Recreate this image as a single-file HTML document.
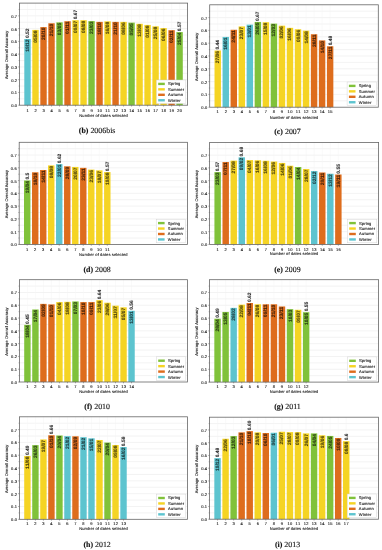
<!DOCTYPE html><html><head><meta charset="utf-8"><style>
html,body{margin:0;padding:0;background:#fff;}
body{width:382px;height:550px;overflow:hidden;}
svg{display:block;will-change:transform;}
text{font-family:"Liberation Sans",sans-serif;fill:#1a1a1a;text-rendering:geometricPrecision;}
.grid{stroke:#e4e4e4;stroke-width:0.45;fill:none;}
.vgrid{stroke:#f4f4f4;stroke-width:0.45;fill:none;}
.tick{stroke:#444;stroke-width:0.45;fill:none;}
.frame{fill:none;stroke:#666;stroke-width:0.8;}
.bt{font-size:4.9px;font-weight:bold;fill:#000;stroke:#000;stroke-width:0.1;opacity:0.72;}
.vt{opacity:0.85;}
.tl{font-size:4.0px;stroke:#1a1a1a;stroke-width:0.12;}
.al{font-size:4.0px;stroke:#1a1a1a;stroke-width:0.1;}
.lt{font-size:4.0px;stroke:#1a1a1a;stroke-width:0.12;}
.leg{fill:#fff;stroke:#d0d0d0;stroke-width:0.45;}
.cap{text-rendering:geometricPrecision;font-family:"Liberation Serif",serif;font-size:7.9px;fill:#111;stroke:#111;stroke-width:0.12;}
</style></head><body>
<svg width="382" height="550" viewBox="0 0 382 550">
<g>
<path d="M19.5 98.82H187.6M19.5 92.44H187.6M19.5 86.06H187.6M19.5 79.67H187.6M19.5 73.29H187.6M19.5 66.91H187.6M19.5 60.53H187.6M19.5 54.15H187.6M19.5 47.77H187.6M19.5 41.39H187.6M19.5 35.01H187.6M19.5 28.62H187.6M19.5 22.24H187.6M19.5 15.86H187.6M19.5 9.48H187.6" class="grid"/>
<path d="M27.5 3.1V105.2M35.51 3.1V105.2M43.51 3.1V105.2M51.52 3.1V105.2M59.52 3.1V105.2M67.53 3.1V105.2M75.53 3.1V105.2M83.54 3.1V105.2M91.54 3.1V105.2M99.55 3.1V105.2M107.55 3.1V105.2M115.56 3.1V105.2M123.56 3.1V105.2M131.57 3.1V105.2M139.57 3.1V105.2M147.58 3.1V105.2M155.58 3.1V105.2M163.59 3.1V105.2M171.59 3.1V105.2M179.6 3.1V105.2" class="vgrid"/>
<rect x="24.3" y="38.96" width="6.4" height="66.24" fill="#5dc4cf"/>
<rect x="32.31" y="29.9" width="6.4" height="75.3" fill="#f5d424"/>
<rect x="40.31" y="27.09" width="6.4" height="78.11" fill="#de6d1d"/>
<rect x="48.32" y="23.26" width="6.4" height="81.94" fill="#de6d1d"/>
<rect x="56.32" y="22.37" width="6.4" height="82.83" fill="#80c23a"/>
<rect x="64.33" y="21.22" width="6.4" height="83.98" fill="#de6d1d"/>
<rect x="72.33" y="20.2" width="6.4" height="85" fill="#f5d424"/>
<rect x="80.34" y="20.2" width="6.4" height="85" fill="#f5d424"/>
<rect x="88.34" y="21.1" width="6.4" height="84.1" fill="#80c23a"/>
<rect x="96.35" y="21.86" width="6.4" height="83.34" fill="#de6d1d"/>
<rect x="104.35" y="21.35" width="6.4" height="83.85" fill="#f5d424"/>
<rect x="112.36" y="21.86" width="6.4" height="83.34" fill="#de6d1d"/>
<rect x="120.36" y="21.86" width="6.4" height="83.34" fill="#f5d424"/>
<rect x="128.36" y="22.63" width="6.4" height="82.57" fill="#80c23a"/>
<rect x="136.37" y="23.78" width="6.4" height="81.42" fill="#f5d424"/>
<rect x="144.37" y="24.92" width="6.4" height="80.28" fill="#f5d424"/>
<rect x="152.38" y="26.33" width="6.4" height="78.87" fill="#f5d424"/>
<rect x="160.38" y="28.11" width="6.4" height="77.09" fill="#f5d424"/>
<rect x="168.39" y="30.16" width="6.4" height="75.04" fill="#de6d1d"/>
<rect x="176.39" y="32.07" width="6.4" height="73.13" fill="#80c23a"/>
<text class="bt" transform="translate(29 39.46) rotate(-90)" text-anchor="end" textLength="12.39" lengthAdjust="spacingAndGlyphs">19/12</text>
<text class="bt vt" transform="translate(29 38.06) rotate(-90)" text-anchor="start" textLength="9.57" lengthAdjust="spacingAndGlyphs">0.52</text>
<text class="bt" transform="translate(37.01 30.4) rotate(-90)" text-anchor="end" textLength="12.39" lengthAdjust="spacingAndGlyphs">05/08</text>
<text class="bt" transform="translate(45.01 27.59) rotate(-90)" text-anchor="end" textLength="12.39" lengthAdjust="spacingAndGlyphs">20/10</text>
<text class="bt" transform="translate(53.02 23.76) rotate(-90)" text-anchor="end" textLength="12.39" lengthAdjust="spacingAndGlyphs">21/10</text>
<text class="bt" transform="translate(61.02 22.87) rotate(-90)" text-anchor="end" textLength="12.39" lengthAdjust="spacingAndGlyphs">03/05</text>
<text class="bt" transform="translate(69.03 21.72) rotate(-90)" text-anchor="end" textLength="12.39" lengthAdjust="spacingAndGlyphs">01/11</text>
<text class="bt" transform="translate(77.03 20.7) rotate(-90)" text-anchor="end" textLength="12.39" lengthAdjust="spacingAndGlyphs">09/07</text>
<text class="bt vt" transform="translate(77.03 19.3) rotate(-90)" text-anchor="start" textLength="9.57" lengthAdjust="spacingAndGlyphs">0.67</text>
<text class="bt" transform="translate(85.04 20.7) rotate(-90)" text-anchor="end" textLength="12.39" lengthAdjust="spacingAndGlyphs">08/08</text>
<text class="bt" transform="translate(93.04 21.6) rotate(-90)" text-anchor="end" textLength="12.39" lengthAdjust="spacingAndGlyphs">23/03</text>
<text class="bt" transform="translate(101.05 22.36) rotate(-90)" text-anchor="end" textLength="12.39" lengthAdjust="spacingAndGlyphs">18/10</text>
<text class="bt" transform="translate(109.05 21.85) rotate(-90)" text-anchor="end" textLength="12.39" lengthAdjust="spacingAndGlyphs">16/08</text>
<text class="bt" transform="translate(117.06 22.36) rotate(-90)" text-anchor="end" textLength="12.39" lengthAdjust="spacingAndGlyphs">21/10</text>
<text class="bt" transform="translate(125.06 22.36) rotate(-90)" text-anchor="end" textLength="12.39" lengthAdjust="spacingAndGlyphs">08/06</text>
<text class="bt" transform="translate(133.07 23.13) rotate(-90)" text-anchor="end" textLength="12.39" lengthAdjust="spacingAndGlyphs">05/05</text>
<text class="bt" transform="translate(141.07 24.28) rotate(-90)" text-anchor="end" textLength="12.39" lengthAdjust="spacingAndGlyphs">13/08</text>
<text class="bt" transform="translate(149.08 25.42) rotate(-90)" text-anchor="end" textLength="12.39" lengthAdjust="spacingAndGlyphs">01/08</text>
<text class="bt" transform="translate(157.08 26.83) rotate(-90)" text-anchor="end" textLength="12.39" lengthAdjust="spacingAndGlyphs">25/08</text>
<text class="bt" transform="translate(165.09 28.61) rotate(-90)" text-anchor="end" textLength="12.39" lengthAdjust="spacingAndGlyphs">06/06</text>
<text class="bt" transform="translate(173.09 30.66) rotate(-90)" text-anchor="end" textLength="12.39" lengthAdjust="spacingAndGlyphs">02/11</text>
<text class="bt" transform="translate(181.1 32.57) rotate(-90)" text-anchor="end" textLength="12.39" lengthAdjust="spacingAndGlyphs">25/04</text>
<text class="bt vt" transform="translate(181.1 31.17) rotate(-90)" text-anchor="start" textLength="9.57" lengthAdjust="spacingAndGlyphs">0.57</text>
<text class="tl" x="27.5" y="111.82" text-anchor="middle" textLength="2.39" lengthAdjust="spacing">1</text>
<text class="tl" x="35.51" y="111.82" text-anchor="middle" textLength="2.39" lengthAdjust="spacing">2</text>
<text class="tl" x="43.51" y="111.82" text-anchor="middle" textLength="2.39" lengthAdjust="spacing">3</text>
<text class="tl" x="51.52" y="111.82" text-anchor="middle" textLength="2.39" lengthAdjust="spacing">4</text>
<text class="tl" x="59.52" y="111.82" text-anchor="middle" textLength="2.39" lengthAdjust="spacing">5</text>
<text class="tl" x="67.53" y="111.82" text-anchor="middle" textLength="2.39" lengthAdjust="spacing">6</text>
<text class="tl" x="75.53" y="111.82" text-anchor="middle" textLength="2.39" lengthAdjust="spacing">7</text>
<text class="tl" x="83.54" y="111.82" text-anchor="middle" textLength="2.39" lengthAdjust="spacing">8</text>
<text class="tl" x="91.54" y="111.82" text-anchor="middle" textLength="2.39" lengthAdjust="spacing">9</text>
<text class="tl" x="99.55" y="111.82" text-anchor="middle" textLength="4.77" lengthAdjust="spacing">10</text>
<text class="tl" x="107.55" y="111.82" text-anchor="middle" textLength="4.77" lengthAdjust="spacing">11</text>
<text class="tl" x="115.56" y="111.82" text-anchor="middle" textLength="4.77" lengthAdjust="spacing">12</text>
<text class="tl" x="123.56" y="111.82" text-anchor="middle" textLength="4.77" lengthAdjust="spacing">13</text>
<text class="tl" x="131.57" y="111.82" text-anchor="middle" textLength="4.77" lengthAdjust="spacing">14</text>
<text class="tl" x="139.57" y="111.82" text-anchor="middle" textLength="4.77" lengthAdjust="spacing">15</text>
<text class="tl" x="147.58" y="111.82" text-anchor="middle" textLength="4.77" lengthAdjust="spacing">16</text>
<text class="tl" x="155.58" y="111.82" text-anchor="middle" textLength="4.77" lengthAdjust="spacing">17</text>
<text class="tl" x="163.59" y="111.82" text-anchor="middle" textLength="4.77" lengthAdjust="spacing">18</text>
<text class="tl" x="171.59" y="111.82" text-anchor="middle" textLength="4.77" lengthAdjust="spacing">19</text>
<text class="tl" x="179.6" y="111.82" text-anchor="middle" textLength="4.77" lengthAdjust="spacing">20</text>
<text class="tl" x="17.1" y="107.18" text-anchor="end" textLength="5.96" lengthAdjust="spacing">0.0</text>
<text class="tl" x="17.1" y="94.42" text-anchor="end" textLength="5.96" lengthAdjust="spacing">0.1</text>
<text class="tl" x="17.1" y="81.66" text-anchor="end" textLength="5.96" lengthAdjust="spacing">0.2</text>
<text class="tl" x="17.1" y="68.89" text-anchor="end" textLength="5.96" lengthAdjust="spacing">0.3</text>
<text class="tl" x="17.1" y="56.13" text-anchor="end" textLength="5.96" lengthAdjust="spacing">0.4</text>
<text class="tl" x="17.1" y="43.37" text-anchor="end" textLength="5.96" lengthAdjust="spacing">0.5</text>
<text class="tl" x="17.1" y="30.6" text-anchor="end" textLength="5.96" lengthAdjust="spacing">0.6</text>
<text class="tl" x="17.1" y="17.84" text-anchor="end" textLength="5.96" lengthAdjust="spacing">0.7</text>
<path d="M27.5 105.2v1.3M35.51 105.2v1.3M43.51 105.2v1.3M51.52 105.2v1.3M59.52 105.2v1.3M67.53 105.2v1.3M75.53 105.2v1.3M83.54 105.2v1.3M91.54 105.2v1.3M99.55 105.2v1.3M107.55 105.2v1.3M115.56 105.2v1.3M123.56 105.2v1.3M131.57 105.2v1.3M139.57 105.2v1.3M147.58 105.2v1.3M155.58 105.2v1.3M163.59 105.2v1.3M171.59 105.2v1.3M179.6 105.2v1.3M19.5 105.2h-1.3M19.5 98.82h-0.8M19.5 92.44h-1.3M19.5 86.06h-0.8M19.5 79.67h-1.3M19.5 73.29h-0.8M19.5 66.91h-1.3M19.5 60.53h-0.8M19.5 54.15h-1.3M19.5 47.77h-0.8M19.5 41.39h-1.3M19.5 35.01h-0.8M19.5 28.62h-1.3M19.5 22.24h-0.8M19.5 15.86h-1.3M19.5 9.48h-0.8" class="tick"/>
<rect x="19.5" y="3.1" width="168.1" height="102.1" class="frame"/>
<text class="al" x="103.55" y="116.62" text-anchor="middle" textLength="48.49" lengthAdjust="spacing">Number of dates selected</text>
<text class="al" transform="translate(8.1 54.95) rotate(-90)" text-anchor="middle" textLength="48.31" lengthAdjust="spacing">Average Overall Accuracy</text>
<rect x="156.4" y="80" width="29.4" height="23.6" class="leg"/>
<rect x="158.2" y="82.7" width="6.6" height="2.4" fill="#80c23a"/>
<text class="lt" x="168" y="85.35" textLength="12.26" lengthAdjust="spacing">Spring</text>
<rect x="158.2" y="88.15" width="6.6" height="2.4" fill="#f5d424"/>
<text class="lt" x="168" y="90.8" textLength="16.12" lengthAdjust="spacing">Summer</text>
<rect x="158.2" y="93.6" width="6.6" height="2.4" fill="#de6d1d"/>
<text class="lt" x="168" y="96.25" textLength="15.02" lengthAdjust="spacing">Autumn</text>
<rect x="158.2" y="99.05" width="6.6" height="2.4" fill="#5dc4cf"/>
<text class="lt" x="168" y="101.7" textLength="12.53" lengthAdjust="spacing">Winter</text>
<text class="cap" x="97.1" y="133" text-anchor="middle"><tspan font-weight="bold">(b)</tspan> 2006bis</text>
</g>
<g>
<path d="M209.7 100.8H378.3M209.7 94.4H378.3M209.7 88H378.3M209.7 81.6H378.3M209.7 75.2H378.3M209.7 68.8H378.3M209.7 62.4H378.3M209.7 56H378.3M209.7 49.6H378.3M209.7 43.2H378.3M209.7 36.8H378.3M209.7 30.4H378.3M209.7 24H378.3M209.7 17.6H378.3M209.7 11.2H378.3" class="grid"/>
<path d="M217.73 4.8V107.2M225.76 4.8V107.2M233.79 4.8V107.2M241.81 4.8V107.2M249.84 4.8V107.2M257.87 4.8V107.2M265.9 4.8V107.2M273.93 4.8V107.2M281.96 4.8V107.2M289.99 4.8V107.2M298.01 4.8V107.2M306.04 4.8V107.2M314.07 4.8V107.2M322.1 4.8V107.2M330.13 4.8V107.2" class="vgrid"/>
<rect x="214.52" y="50.5" width="6.42" height="56.7" fill="#f5d424"/>
<rect x="222.55" y="36.93" width="6.42" height="70.27" fill="#5dc4cf"/>
<rect x="230.57" y="29.76" width="6.42" height="77.44" fill="#de6d1d"/>
<rect x="238.6" y="26.43" width="6.42" height="80.77" fill="#f5d424"/>
<rect x="246.63" y="24.64" width="6.42" height="82.56" fill="#5dc4cf"/>
<rect x="254.66" y="21.95" width="6.42" height="85.25" fill="#80c23a"/>
<rect x="262.69" y="22.21" width="6.42" height="84.99" fill="#f5d424"/>
<rect x="270.72" y="23.62" width="6.42" height="83.58" fill="#80c23a"/>
<rect x="278.75" y="25.66" width="6.42" height="81.54" fill="#f5d424"/>
<rect x="286.77" y="27.84" width="6.42" height="79.36" fill="#f5d424"/>
<rect x="294.8" y="29.25" width="6.42" height="77.95" fill="#f5d424"/>
<rect x="302.83" y="30.66" width="6.42" height="76.54" fill="#f5d424"/>
<rect x="310.86" y="34.24" width="6.42" height="72.96" fill="#de6d1d"/>
<rect x="318.89" y="40.38" width="6.42" height="66.82" fill="#de6d1d"/>
<rect x="326.92" y="46.27" width="6.42" height="60.93" fill="#de6d1d"/>
<text class="bt" transform="translate(219.23 51) rotate(-90)" text-anchor="end" textLength="12.39" lengthAdjust="spacingAndGlyphs">27/06</text>
<text class="bt vt" transform="translate(219.23 49.6) rotate(-90)" text-anchor="start" textLength="9.57" lengthAdjust="spacingAndGlyphs">0.44</text>
<text class="bt" transform="translate(227.26 37.43) rotate(-90)" text-anchor="end" textLength="12.39" lengthAdjust="spacingAndGlyphs">16/01</text>
<text class="bt" transform="translate(235.29 30.26) rotate(-90)" text-anchor="end" textLength="12.39" lengthAdjust="spacingAndGlyphs">24/11</text>
<text class="bt" transform="translate(243.31 26.93) rotate(-90)" text-anchor="end" textLength="12.39" lengthAdjust="spacingAndGlyphs">23/07</text>
<text class="bt" transform="translate(251.34 25.14) rotate(-90)" text-anchor="end" textLength="12.39" lengthAdjust="spacingAndGlyphs">13/01</text>
<text class="bt" transform="translate(259.37 22.45) rotate(-90)" text-anchor="end" textLength="12.39" lengthAdjust="spacingAndGlyphs">26/05</text>
<text class="bt vt" transform="translate(259.37 21.05) rotate(-90)" text-anchor="start" textLength="9.57" lengthAdjust="spacingAndGlyphs">0.67</text>
<text class="bt" transform="translate(267.4 22.71) rotate(-90)" text-anchor="end" textLength="12.39" lengthAdjust="spacingAndGlyphs">15/08</text>
<text class="bt" transform="translate(275.43 24.12) rotate(-90)" text-anchor="end" textLength="12.39" lengthAdjust="spacingAndGlyphs">12/03</text>
<text class="bt" transform="translate(283.46 26.16) rotate(-90)" text-anchor="end" textLength="12.39" lengthAdjust="spacingAndGlyphs">02/06</text>
<text class="bt" transform="translate(291.49 28.34) rotate(-90)" text-anchor="end" textLength="12.39" lengthAdjust="spacingAndGlyphs">16/06</text>
<text class="bt" transform="translate(299.51 29.75) rotate(-90)" text-anchor="end" textLength="12.39" lengthAdjust="spacingAndGlyphs">09/06</text>
<text class="bt" transform="translate(307.54 31.16) rotate(-90)" text-anchor="end" textLength="12.39" lengthAdjust="spacingAndGlyphs">14/08</text>
<text class="bt" transform="translate(315.57 34.74) rotate(-90)" text-anchor="end" textLength="12.39" lengthAdjust="spacingAndGlyphs">28/11</text>
<text class="bt" transform="translate(323.6 40.88) rotate(-90)" text-anchor="end" textLength="12.39" lengthAdjust="spacingAndGlyphs">14/10</text>
<text class="bt" transform="translate(331.63 46.77) rotate(-90)" text-anchor="end" textLength="12.39" lengthAdjust="spacingAndGlyphs">27/11</text>
<text class="bt vt" transform="translate(331.63 45.37) rotate(-90)" text-anchor="start" textLength="9.57" lengthAdjust="spacingAndGlyphs">0.48</text>
<text class="tl" x="217.73" y="112.57" text-anchor="middle" textLength="2.39" lengthAdjust="spacing">1</text>
<text class="tl" x="225.76" y="112.57" text-anchor="middle" textLength="2.39" lengthAdjust="spacing">2</text>
<text class="tl" x="233.79" y="112.57" text-anchor="middle" textLength="2.39" lengthAdjust="spacing">3</text>
<text class="tl" x="241.81" y="112.57" text-anchor="middle" textLength="2.39" lengthAdjust="spacing">4</text>
<text class="tl" x="249.84" y="112.57" text-anchor="middle" textLength="2.39" lengthAdjust="spacing">5</text>
<text class="tl" x="257.87" y="112.57" text-anchor="middle" textLength="2.39" lengthAdjust="spacing">6</text>
<text class="tl" x="265.9" y="112.57" text-anchor="middle" textLength="2.39" lengthAdjust="spacing">7</text>
<text class="tl" x="273.93" y="112.57" text-anchor="middle" textLength="2.39" lengthAdjust="spacing">8</text>
<text class="tl" x="281.96" y="112.57" text-anchor="middle" textLength="2.39" lengthAdjust="spacing">9</text>
<text class="tl" x="289.99" y="112.57" text-anchor="middle" textLength="4.77" lengthAdjust="spacing">10</text>
<text class="tl" x="298.01" y="112.57" text-anchor="middle" textLength="4.77" lengthAdjust="spacing">11</text>
<text class="tl" x="306.04" y="112.57" text-anchor="middle" textLength="4.77" lengthAdjust="spacing">12</text>
<text class="tl" x="314.07" y="112.57" text-anchor="middle" textLength="4.77" lengthAdjust="spacing">13</text>
<text class="tl" x="322.1" y="112.57" text-anchor="middle" textLength="4.77" lengthAdjust="spacing">14</text>
<text class="tl" x="330.13" y="112.57" text-anchor="middle" textLength="4.77" lengthAdjust="spacing">15</text>
<text class="tl" x="207.3" y="109.18" text-anchor="end" textLength="5.96" lengthAdjust="spacing">0.0</text>
<text class="tl" x="207.3" y="96.38" text-anchor="end" textLength="5.96" lengthAdjust="spacing">0.1</text>
<text class="tl" x="207.3" y="83.58" text-anchor="end" textLength="5.96" lengthAdjust="spacing">0.2</text>
<text class="tl" x="207.3" y="70.78" text-anchor="end" textLength="5.96" lengthAdjust="spacing">0.3</text>
<text class="tl" x="207.3" y="57.98" text-anchor="end" textLength="5.96" lengthAdjust="spacing">0.4</text>
<text class="tl" x="207.3" y="45.18" text-anchor="end" textLength="5.96" lengthAdjust="spacing">0.5</text>
<text class="tl" x="207.3" y="32.38" text-anchor="end" textLength="5.96" lengthAdjust="spacing">0.6</text>
<text class="tl" x="207.3" y="19.58" text-anchor="end" textLength="5.96" lengthAdjust="spacing">0.7</text>
<path d="M217.73 107.2v1.3M225.76 107.2v1.3M233.79 107.2v1.3M241.81 107.2v1.3M249.84 107.2v1.3M257.87 107.2v1.3M265.9 107.2v1.3M273.93 107.2v1.3M281.96 107.2v1.3M289.99 107.2v1.3M298.01 107.2v1.3M306.04 107.2v1.3M314.07 107.2v1.3M322.1 107.2v1.3M330.13 107.2v1.3M209.7 107.2h-1.3M209.7 100.8h-0.8M209.7 94.4h-1.3M209.7 88h-0.8M209.7 81.6h-1.3M209.7 75.2h-0.8M209.7 68.8h-1.3M209.7 62.4h-0.8M209.7 56h-1.3M209.7 49.6h-0.8M209.7 43.2h-1.3M209.7 36.8h-0.8M209.7 30.4h-1.3M209.7 24h-0.8M209.7 17.6h-1.3M209.7 11.2h-0.8" class="tick"/>
<rect x="209.7" y="4.8" width="168.6" height="102.4" class="frame"/>
<text class="al" x="294" y="119.12" text-anchor="middle" textLength="48.49" lengthAdjust="spacing">Number of dates selected</text>
<text class="al" transform="translate(198.3 56.8) rotate(-90)" text-anchor="middle" textLength="48.31" lengthAdjust="spacing">Average Overall Accuracy</text>
<rect x="347.1" y="82" width="29.4" height="23.6" class="leg"/>
<rect x="348.9" y="84.7" width="6.6" height="2.4" fill="#80c23a"/>
<text class="lt" x="358.7" y="87.35" textLength="12.26" lengthAdjust="spacing">Spring</text>
<rect x="348.9" y="90.15" width="6.6" height="2.4" fill="#f5d424"/>
<text class="lt" x="358.7" y="92.8" textLength="16.12" lengthAdjust="spacing">Summer</text>
<rect x="348.9" y="95.6" width="6.6" height="2.4" fill="#de6d1d"/>
<text class="lt" x="358.7" y="98.25" textLength="15.02" lengthAdjust="spacing">Autumn</text>
<rect x="348.9" y="101.05" width="6.6" height="2.4" fill="#5dc4cf"/>
<text class="lt" x="358.7" y="103.7" textLength="12.53" lengthAdjust="spacing">Winter</text>
<text class="cap" x="287.5" y="134.1" text-anchor="middle"><tspan font-weight="bold">(c)</tspan> 2007</text>
</g>
<g>
<path d="M19.2 238.02H187.4M19.2 231.64H187.4M19.2 225.26H187.4M19.2 218.88H187.4M19.2 212.49H187.4M19.2 206.11H187.4M19.2 199.73H187.4M19.2 193.35H187.4M19.2 186.97H187.4M19.2 180.59H187.4M19.2 174.21H187.4M19.2 167.82H187.4M19.2 161.44H187.4M19.2 155.06H187.4M19.2 148.68H187.4" class="grid"/>
<path d="M27.21 142.3V244.4M35.22 142.3V244.4M43.23 142.3V244.4M51.24 142.3V244.4M59.25 142.3V244.4M67.26 142.3V244.4M75.27 142.3V244.4M83.28 142.3V244.4M91.29 142.3V244.4M99.3 142.3V244.4M107.3 142.3V244.4" class="vgrid"/>
<rect x="24.01" y="180.46" width="6.41" height="63.94" fill="#80c23a"/>
<rect x="32.02" y="172.29" width="6.41" height="72.11" fill="#de6d1d"/>
<rect x="40.02" y="169.99" width="6.41" height="74.41" fill="#de6d1d"/>
<rect x="48.03" y="165.4" width="6.41" height="79" fill="#f5d424"/>
<rect x="56.04" y="164.12" width="6.41" height="80.28" fill="#5dc4cf"/>
<rect x="64.05" y="166.29" width="6.41" height="78.11" fill="#de6d1d"/>
<rect x="72.06" y="166.93" width="6.41" height="77.47" fill="#f5d424"/>
<rect x="80.07" y="167.83" width="6.41" height="76.57" fill="#de6d1d"/>
<rect x="88.08" y="169.61" width="6.41" height="74.79" fill="#f5d424"/>
<rect x="96.09" y="170.38" width="6.41" height="74.02" fill="#f5d424"/>
<rect x="104.1" y="172.04" width="6.41" height="72.36" fill="#f5d424"/>
<text class="bt" transform="translate(28.71 180.96) rotate(-90)" text-anchor="end" textLength="12.39" lengthAdjust="spacingAndGlyphs">19/04</text>
<text class="bt vt" transform="translate(28.71 179.56) rotate(-90)" text-anchor="start" textLength="6.84" lengthAdjust="spacingAndGlyphs">0.5</text>
<text class="bt" transform="translate(36.72 172.79) rotate(-90)" text-anchor="end" textLength="12.39" lengthAdjust="spacingAndGlyphs">18/10</text>
<text class="bt" transform="translate(44.73 170.49) rotate(-90)" text-anchor="end" textLength="12.39" lengthAdjust="spacingAndGlyphs">14/11</text>
<text class="bt" transform="translate(52.74 165.9) rotate(-90)" text-anchor="end" textLength="12.39" lengthAdjust="spacingAndGlyphs">08/08</text>
<text class="bt" transform="translate(60.75 164.62) rotate(-90)" text-anchor="end" textLength="12.39" lengthAdjust="spacingAndGlyphs">22/01</text>
<text class="bt vt" transform="translate(60.75 163.22) rotate(-90)" text-anchor="start" textLength="9.57" lengthAdjust="spacingAndGlyphs">0.62</text>
<text class="bt" transform="translate(68.76 166.79) rotate(-90)" text-anchor="end" textLength="12.39" lengthAdjust="spacingAndGlyphs">28/09</text>
<text class="bt" transform="translate(76.77 167.43) rotate(-90)" text-anchor="end" textLength="12.39" lengthAdjust="spacingAndGlyphs">20/07</text>
<text class="bt" transform="translate(84.78 168.33) rotate(-90)" text-anchor="end" textLength="12.39" lengthAdjust="spacingAndGlyphs">23/11</text>
<text class="bt" transform="translate(92.79 170.11) rotate(-90)" text-anchor="end" textLength="12.39" lengthAdjust="spacingAndGlyphs">23/06</text>
<text class="bt" transform="translate(100.8 170.88) rotate(-90)" text-anchor="end" textLength="12.39" lengthAdjust="spacingAndGlyphs">18/07</text>
<text class="bt" transform="translate(108.8 172.54) rotate(-90)" text-anchor="end" textLength="12.39" lengthAdjust="spacingAndGlyphs">19/08</text>
<text class="bt vt" transform="translate(108.8 171.14) rotate(-90)" text-anchor="start" textLength="9.57" lengthAdjust="spacingAndGlyphs">0.57</text>
<text class="tl" x="27.21" y="250.62" text-anchor="middle" textLength="2.39" lengthAdjust="spacing">1</text>
<text class="tl" x="35.22" y="250.62" text-anchor="middle" textLength="2.39" lengthAdjust="spacing">2</text>
<text class="tl" x="43.23" y="250.62" text-anchor="middle" textLength="2.39" lengthAdjust="spacing">3</text>
<text class="tl" x="51.24" y="250.62" text-anchor="middle" textLength="2.39" lengthAdjust="spacing">4</text>
<text class="tl" x="59.25" y="250.62" text-anchor="middle" textLength="2.39" lengthAdjust="spacing">5</text>
<text class="tl" x="67.26" y="250.62" text-anchor="middle" textLength="2.39" lengthAdjust="spacing">6</text>
<text class="tl" x="75.27" y="250.62" text-anchor="middle" textLength="2.39" lengthAdjust="spacing">7</text>
<text class="tl" x="83.28" y="250.62" text-anchor="middle" textLength="2.39" lengthAdjust="spacing">8</text>
<text class="tl" x="91.29" y="250.62" text-anchor="middle" textLength="2.39" lengthAdjust="spacing">9</text>
<text class="tl" x="99.3" y="250.62" text-anchor="middle" textLength="4.77" lengthAdjust="spacing">10</text>
<text class="tl" x="107.3" y="250.62" text-anchor="middle" textLength="4.77" lengthAdjust="spacing">11</text>
<text class="tl" x="16.8" y="246.38" text-anchor="end" textLength="5.96" lengthAdjust="spacing">0.0</text>
<text class="tl" x="16.8" y="233.62" text-anchor="end" textLength="5.96" lengthAdjust="spacing">0.1</text>
<text class="tl" x="16.8" y="220.85" text-anchor="end" textLength="5.96" lengthAdjust="spacing">0.2</text>
<text class="tl" x="16.8" y="208.09" text-anchor="end" textLength="5.96" lengthAdjust="spacing">0.3</text>
<text class="tl" x="16.8" y="195.33" text-anchor="end" textLength="5.96" lengthAdjust="spacing">0.4</text>
<text class="tl" x="16.8" y="182.57" text-anchor="end" textLength="5.96" lengthAdjust="spacing">0.5</text>
<text class="tl" x="16.8" y="169.8" text-anchor="end" textLength="5.96" lengthAdjust="spacing">0.6</text>
<text class="tl" x="16.8" y="157.04" text-anchor="end" textLength="5.96" lengthAdjust="spacing">0.7</text>
<path d="M27.21 244.4v1.3M35.22 244.4v1.3M43.23 244.4v1.3M51.24 244.4v1.3M59.25 244.4v1.3M67.26 244.4v1.3M75.27 244.4v1.3M83.28 244.4v1.3M91.29 244.4v1.3M99.3 244.4v1.3M107.3 244.4v1.3M19.2 244.4h-1.3M19.2 238.02h-0.8M19.2 231.64h-1.3M19.2 225.26h-0.8M19.2 218.88h-1.3M19.2 212.49h-0.8M19.2 206.11h-1.3M19.2 199.73h-0.8M19.2 193.35h-1.3M19.2 186.97h-0.8M19.2 180.59h-1.3M19.2 174.21h-0.8M19.2 167.82h-1.3M19.2 161.44h-0.8M19.2 155.06h-1.3M19.2 148.68h-0.8" class="tick"/>
<rect x="19.2" y="142.3" width="168.2" height="102.1" class="frame"/>
<text class="al" x="103.3" y="256.12" text-anchor="middle" textLength="48.49" lengthAdjust="spacing">Number of dates selected</text>
<text class="al" transform="translate(7.8 194.15) rotate(-90)" text-anchor="middle" textLength="48.31" lengthAdjust="spacing">Average Overall Accuracy</text>
<rect x="156.2" y="219.2" width="29.4" height="23.6" class="leg"/>
<rect x="158" y="221.9" width="6.6" height="2.4" fill="#80c23a"/>
<text class="lt" x="167.8" y="224.55" textLength="12.26" lengthAdjust="spacing">Spring</text>
<rect x="158" y="227.35" width="6.6" height="2.4" fill="#f5d424"/>
<text class="lt" x="167.8" y="230" textLength="16.12" lengthAdjust="spacing">Summer</text>
<rect x="158" y="232.8" width="6.6" height="2.4" fill="#de6d1d"/>
<text class="lt" x="167.8" y="235.45" textLength="15.02" lengthAdjust="spacing">Autumn</text>
<rect x="158" y="238.25" width="6.6" height="2.4" fill="#5dc4cf"/>
<text class="lt" x="167.8" y="240.9" textLength="12.53" lengthAdjust="spacing">Winter</text>
<text class="cap" x="97.1" y="271.6" text-anchor="middle"><tspan font-weight="bold">(d)</tspan> 2008</text>
</g>
<g>
<path d="M209.6 238.03H378.6M209.6 231.65H378.6M209.6 225.28H378.6M209.6 218.9H378.6M209.6 212.53H378.6M209.6 206.15H378.6M209.6 199.78H378.6M209.6 193.4H378.6M209.6 187.03H378.6M209.6 180.65H378.6M209.6 174.28H378.6M209.6 167.9H378.6M209.6 161.53H378.6M209.6 155.15H378.6M209.6 148.78H378.6" class="grid"/>
<path d="M217.65 142.4V244.4M225.7 142.4V244.4M233.74 142.4V244.4M241.79 142.4V244.4M249.84 142.4V244.4M257.89 142.4V244.4M265.93 142.4V244.4M273.98 142.4V244.4M282.03 142.4V244.4M290.08 142.4V244.4M298.12 142.4V244.4M306.17 142.4V244.4M314.22 142.4V244.4M322.27 142.4V244.4M330.31 142.4V244.4M338.36 142.4V244.4" class="vgrid"/>
<rect x="214.43" y="172.11" width="6.44" height="72.29" fill="#80c23a"/>
<rect x="222.48" y="162.03" width="6.44" height="82.37" fill="#de6d1d"/>
<rect x="230.52" y="160.63" width="6.44" height="83.77" fill="#f5d424"/>
<rect x="238.57" y="157.32" width="6.44" height="87.08" fill="#5dc4cf"/>
<rect x="246.62" y="160.12" width="6.44" height="84.28" fill="#f5d424"/>
<rect x="254.67" y="160.25" width="6.44" height="84.15" fill="#f5d424"/>
<rect x="262.71" y="160.76" width="6.44" height="83.64" fill="#f5d424"/>
<rect x="270.76" y="161.53" width="6.44" height="82.88" fill="#f5d424"/>
<rect x="278.81" y="162.93" width="6.44" height="81.47" fill="#f5d424"/>
<rect x="286.86" y="165.73" width="6.44" height="78.67" fill="#f5d424"/>
<rect x="294.9" y="167.01" width="6.44" height="77.39" fill="#80c23a"/>
<rect x="302.95" y="169.05" width="6.44" height="75.35" fill="#f5d424"/>
<rect x="311" y="171.09" width="6.44" height="73.31" fill="#5dc4cf"/>
<rect x="319.05" y="172.49" width="6.44" height="71.91" fill="#de6d1d"/>
<rect x="327.1" y="173.76" width="6.44" height="70.64" fill="#5dc4cf"/>
<rect x="335.14" y="174.53" width="6.44" height="69.87" fill="#de6d1d"/>
<text class="bt" transform="translate(219.15 172.61) rotate(-90)" text-anchor="end" textLength="12.39" lengthAdjust="spacingAndGlyphs">23/03</text>
<text class="bt vt" transform="translate(219.15 171.21) rotate(-90)" text-anchor="start" textLength="9.57" lengthAdjust="spacingAndGlyphs">0.57</text>
<text class="bt" transform="translate(227.2 162.53) rotate(-90)" text-anchor="end" textLength="12.39" lengthAdjust="spacingAndGlyphs">07/11</text>
<text class="bt" transform="translate(235.24 161.13) rotate(-90)" text-anchor="end" textLength="12.39" lengthAdjust="spacingAndGlyphs">27/08</text>
<text class="bt" transform="translate(243.29 157.82) rotate(-90)" text-anchor="end" textLength="12.39" lengthAdjust="spacingAndGlyphs">09/02</text>
<text class="bt vt" transform="translate(243.29 156.42) rotate(-90)" text-anchor="start" textLength="9.57" lengthAdjust="spacingAndGlyphs">0.68</text>
<text class="bt" transform="translate(251.34 160.62) rotate(-90)" text-anchor="end" textLength="12.39" lengthAdjust="spacingAndGlyphs">04/07</text>
<text class="bt" transform="translate(259.39 160.75) rotate(-90)" text-anchor="end" textLength="12.39" lengthAdjust="spacingAndGlyphs">16/06</text>
<text class="bt" transform="translate(267.43 161.26) rotate(-90)" text-anchor="end" textLength="12.39" lengthAdjust="spacingAndGlyphs">16/08</text>
<text class="bt" transform="translate(275.48 162.03) rotate(-90)" text-anchor="end" textLength="12.39" lengthAdjust="spacingAndGlyphs">12/06</text>
<text class="bt" transform="translate(283.53 163.43) rotate(-90)" text-anchor="end" textLength="12.39" lengthAdjust="spacingAndGlyphs">14/06</text>
<text class="bt" transform="translate(291.58 166.23) rotate(-90)" text-anchor="end" textLength="12.39" lengthAdjust="spacingAndGlyphs">01/06</text>
<text class="bt" transform="translate(299.62 167.51) rotate(-90)" text-anchor="end" textLength="12.39" lengthAdjust="spacingAndGlyphs">14/04</text>
<text class="bt" transform="translate(307.67 169.55) rotate(-90)" text-anchor="end" textLength="12.39" lengthAdjust="spacingAndGlyphs">28/07</text>
<text class="bt" transform="translate(315.72 171.59) rotate(-90)" text-anchor="end" textLength="12.39" lengthAdjust="spacingAndGlyphs">02/12</text>
<text class="bt" transform="translate(323.77 172.99) rotate(-90)" text-anchor="end" textLength="12.39" lengthAdjust="spacingAndGlyphs">20/11</text>
<text class="bt" transform="translate(331.81 174.26) rotate(-90)" text-anchor="end" textLength="12.39" lengthAdjust="spacingAndGlyphs">13/12</text>
<text class="bt" transform="translate(339.86 175.03) rotate(-90)" text-anchor="end" textLength="12.39" lengthAdjust="spacingAndGlyphs">19/11</text>
<text class="bt vt" transform="translate(339.86 173.63) rotate(-90)" text-anchor="start" textLength="9.57" lengthAdjust="spacingAndGlyphs">0.55</text>
<text class="tl" x="217.65" y="251.02" text-anchor="middle" textLength="2.39" lengthAdjust="spacing">1</text>
<text class="tl" x="225.7" y="251.02" text-anchor="middle" textLength="2.39" lengthAdjust="spacing">2</text>
<text class="tl" x="233.74" y="251.02" text-anchor="middle" textLength="2.39" lengthAdjust="spacing">3</text>
<text class="tl" x="241.79" y="251.02" text-anchor="middle" textLength="2.39" lengthAdjust="spacing">4</text>
<text class="tl" x="249.84" y="251.02" text-anchor="middle" textLength="2.39" lengthAdjust="spacing">5</text>
<text class="tl" x="257.89" y="251.02" text-anchor="middle" textLength="2.39" lengthAdjust="spacing">6</text>
<text class="tl" x="265.93" y="251.02" text-anchor="middle" textLength="2.39" lengthAdjust="spacing">7</text>
<text class="tl" x="273.98" y="251.02" text-anchor="middle" textLength="2.39" lengthAdjust="spacing">8</text>
<text class="tl" x="282.03" y="251.02" text-anchor="middle" textLength="2.39" lengthAdjust="spacing">9</text>
<text class="tl" x="290.08" y="251.02" text-anchor="middle" textLength="4.77" lengthAdjust="spacing">10</text>
<text class="tl" x="298.12" y="251.02" text-anchor="middle" textLength="4.77" lengthAdjust="spacing">11</text>
<text class="tl" x="306.17" y="251.02" text-anchor="middle" textLength="4.77" lengthAdjust="spacing">12</text>
<text class="tl" x="314.22" y="251.02" text-anchor="middle" textLength="4.77" lengthAdjust="spacing">13</text>
<text class="tl" x="322.27" y="251.02" text-anchor="middle" textLength="4.77" lengthAdjust="spacing">14</text>
<text class="tl" x="330.31" y="251.02" text-anchor="middle" textLength="4.77" lengthAdjust="spacing">15</text>
<text class="tl" x="338.36" y="251.02" text-anchor="middle" textLength="4.77" lengthAdjust="spacing">16</text>
<text class="tl" x="207.2" y="246.38" text-anchor="end" textLength="5.96" lengthAdjust="spacing">0.0</text>
<text class="tl" x="207.2" y="233.63" text-anchor="end" textLength="5.96" lengthAdjust="spacing">0.1</text>
<text class="tl" x="207.2" y="220.88" text-anchor="end" textLength="5.96" lengthAdjust="spacing">0.2</text>
<text class="tl" x="207.2" y="208.13" text-anchor="end" textLength="5.96" lengthAdjust="spacing">0.3</text>
<text class="tl" x="207.2" y="195.38" text-anchor="end" textLength="5.96" lengthAdjust="spacing">0.4</text>
<text class="tl" x="207.2" y="182.63" text-anchor="end" textLength="5.96" lengthAdjust="spacing">0.5</text>
<text class="tl" x="207.2" y="169.88" text-anchor="end" textLength="5.96" lengthAdjust="spacing">0.6</text>
<text class="tl" x="207.2" y="157.13" text-anchor="end" textLength="5.96" lengthAdjust="spacing">0.7</text>
<path d="M217.65 244.4v1.3M225.7 244.4v1.3M233.74 244.4v1.3M241.79 244.4v1.3M249.84 244.4v1.3M257.89 244.4v1.3M265.93 244.4v1.3M273.98 244.4v1.3M282.03 244.4v1.3M290.08 244.4v1.3M298.12 244.4v1.3M306.17 244.4v1.3M314.22 244.4v1.3M322.27 244.4v1.3M330.31 244.4v1.3M338.36 244.4v1.3M209.6 244.4h-1.3M209.6 238.03h-0.8M209.6 231.65h-1.3M209.6 225.28h-0.8M209.6 218.9h-1.3M209.6 212.53h-0.8M209.6 206.15h-1.3M209.6 199.78h-0.8M209.6 193.4h-1.3M209.6 187.03h-0.8M209.6 180.65h-1.3M209.6 174.28h-0.8M209.6 167.9h-1.3M209.6 161.53h-0.8M209.6 155.15h-1.3M209.6 148.78h-0.8" class="tick"/>
<rect x="209.6" y="142.4" width="169" height="102" class="frame"/>
<text class="al" x="294.1" y="255.32" text-anchor="middle" textLength="48.49" lengthAdjust="spacing">Number of dates selected</text>
<text class="al" transform="translate(198.2 194.2) rotate(-90)" text-anchor="middle" textLength="48.31" lengthAdjust="spacing">Average Overall Accuracy</text>
<rect x="347.4" y="219.2" width="29.4" height="23.6" class="leg"/>
<rect x="349.2" y="221.9" width="6.6" height="2.4" fill="#80c23a"/>
<text class="lt" x="359" y="224.55" textLength="12.26" lengthAdjust="spacing">Spring</text>
<rect x="349.2" y="227.35" width="6.6" height="2.4" fill="#f5d424"/>
<text class="lt" x="359" y="230" textLength="16.12" lengthAdjust="spacing">Summer</text>
<rect x="349.2" y="232.8" width="6.6" height="2.4" fill="#de6d1d"/>
<text class="lt" x="359" y="235.45" textLength="15.02" lengthAdjust="spacing">Autumn</text>
<rect x="349.2" y="238.25" width="6.6" height="2.4" fill="#5dc4cf"/>
<text class="lt" x="359" y="240.9" textLength="12.53" lengthAdjust="spacing">Winter</text>
<text class="cap" x="287.4" y="271.6" text-anchor="middle"><tspan font-weight="bold">(e)</tspan> 2009</text>
</g>
<g>
<path d="M19.4 375.61H187.6M19.4 369.21H187.6M19.4 362.82H187.6M19.4 356.43H187.6M19.4 350.03H187.6M19.4 343.64H187.6M19.4 337.24H187.6M19.4 330.85H187.6M19.4 324.46H187.6M19.4 318.06H187.6M19.4 311.67H187.6M19.4 305.27H187.6M19.4 298.88H187.6M19.4 292.49H187.6M19.4 286.09H187.6" class="grid"/>
<path d="M27.41 279.7V382M35.42 279.7V382M43.43 279.7V382M51.44 279.7V382M59.45 279.7V382M67.46 279.7V382M75.47 279.7V382M83.48 279.7V382M91.49 279.7V382M99.5 279.7V382M107.5 279.7V382M115.51 279.7V382M123.52 279.7V382M131.53 279.7V382" class="vgrid"/>
<rect x="24.21" y="324.84" width="6.41" height="57.16" fill="#80c23a"/>
<rect x="32.22" y="309.49" width="6.41" height="72.51" fill="#80c23a"/>
<rect x="40.22" y="303.87" width="6.41" height="78.13" fill="#de6d1d"/>
<rect x="48.23" y="304.38" width="6.41" height="77.62" fill="#de6d1d"/>
<rect x="56.24" y="302.08" width="6.41" height="79.92" fill="#f5d424"/>
<rect x="64.25" y="301.82" width="6.41" height="80.18" fill="#f5d424"/>
<rect x="72.26" y="301.44" width="6.41" height="80.56" fill="#80c23a"/>
<rect x="80.27" y="302.08" width="6.41" height="79.92" fill="#de6d1d"/>
<rect x="88.28" y="302.08" width="6.41" height="79.92" fill="#de6d1d"/>
<rect x="96.29" y="300.16" width="6.41" height="81.84" fill="#f5d424"/>
<rect x="104.3" y="302.72" width="6.41" height="79.28" fill="#f5d424"/>
<rect x="112.31" y="305.66" width="6.41" height="76.34" fill="#f5d424"/>
<rect x="120.32" y="307.32" width="6.41" height="74.68" fill="#f5d424"/>
<rect x="128.33" y="310.77" width="6.41" height="71.23" fill="#5dc4cf"/>
<text class="bt" transform="translate(28.91 325.34) rotate(-90)" text-anchor="end" textLength="12.39" lengthAdjust="spacingAndGlyphs">18/04</text>
<text class="bt vt" transform="translate(28.91 323.94) rotate(-90)" text-anchor="start" textLength="9.57" lengthAdjust="spacingAndGlyphs">0.45</text>
<text class="bt" transform="translate(36.92 309.99) rotate(-90)" text-anchor="end" textLength="12.39" lengthAdjust="spacingAndGlyphs">17/04</text>
<text class="bt" transform="translate(44.93 304.37) rotate(-90)" text-anchor="end" textLength="12.39" lengthAdjust="spacingAndGlyphs">02/09</text>
<text class="bt" transform="translate(52.94 304.88) rotate(-90)" text-anchor="end" textLength="12.39" lengthAdjust="spacingAndGlyphs">01/10</text>
<text class="bt" transform="translate(60.95 302.58) rotate(-90)" text-anchor="end" textLength="12.39" lengthAdjust="spacingAndGlyphs">04/06</text>
<text class="bt" transform="translate(68.96 302.32) rotate(-90)" text-anchor="end" textLength="12.39" lengthAdjust="spacingAndGlyphs">18/08</text>
<text class="bt" transform="translate(76.97 301.94) rotate(-90)" text-anchor="end" textLength="12.39" lengthAdjust="spacingAndGlyphs">07/03</text>
<text class="bt" transform="translate(84.98 302.58) rotate(-90)" text-anchor="end" textLength="12.39" lengthAdjust="spacingAndGlyphs">10/10</text>
<text class="bt" transform="translate(92.99 302.58) rotate(-90)" text-anchor="end" textLength="12.39" lengthAdjust="spacingAndGlyphs">09/11</text>
<text class="bt" transform="translate(101 300.66) rotate(-90)" text-anchor="end" textLength="12.39" lengthAdjust="spacingAndGlyphs">23/06</text>
<text class="bt vt" transform="translate(101 299.26) rotate(-90)" text-anchor="start" textLength="9.57" lengthAdjust="spacingAndGlyphs">0.64</text>
<text class="bt" transform="translate(109 303.22) rotate(-90)" text-anchor="end" textLength="12.39" lengthAdjust="spacingAndGlyphs">28/06</text>
<text class="bt" transform="translate(117.01 306.16) rotate(-90)" text-anchor="end" textLength="12.39" lengthAdjust="spacingAndGlyphs">11/07</text>
<text class="bt" transform="translate(125.02 307.82) rotate(-90)" text-anchor="end" textLength="12.39" lengthAdjust="spacingAndGlyphs">05/07</text>
<text class="bt" transform="translate(133.03 311.27) rotate(-90)" text-anchor="end" textLength="12.39" lengthAdjust="spacingAndGlyphs">13/01</text>
<text class="bt vt" transform="translate(133.03 309.87) rotate(-90)" text-anchor="start" textLength="9.57" lengthAdjust="spacingAndGlyphs">0.56</text>
<text class="tl" x="27.41" y="387.77" text-anchor="middle" textLength="2.39" lengthAdjust="spacing">1</text>
<text class="tl" x="35.42" y="387.77" text-anchor="middle" textLength="2.39" lengthAdjust="spacing">2</text>
<text class="tl" x="43.43" y="387.77" text-anchor="middle" textLength="2.39" lengthAdjust="spacing">3</text>
<text class="tl" x="51.44" y="387.77" text-anchor="middle" textLength="2.39" lengthAdjust="spacing">4</text>
<text class="tl" x="59.45" y="387.77" text-anchor="middle" textLength="2.39" lengthAdjust="spacing">5</text>
<text class="tl" x="67.46" y="387.77" text-anchor="middle" textLength="2.39" lengthAdjust="spacing">6</text>
<text class="tl" x="75.47" y="387.77" text-anchor="middle" textLength="2.39" lengthAdjust="spacing">7</text>
<text class="tl" x="83.48" y="387.77" text-anchor="middle" textLength="2.39" lengthAdjust="spacing">8</text>
<text class="tl" x="91.49" y="387.77" text-anchor="middle" textLength="2.39" lengthAdjust="spacing">9</text>
<text class="tl" x="99.5" y="387.77" text-anchor="middle" textLength="4.77" lengthAdjust="spacing">10</text>
<text class="tl" x="107.5" y="387.77" text-anchor="middle" textLength="4.77" lengthAdjust="spacing">11</text>
<text class="tl" x="115.51" y="387.77" text-anchor="middle" textLength="4.77" lengthAdjust="spacing">12</text>
<text class="tl" x="123.52" y="387.77" text-anchor="middle" textLength="4.77" lengthAdjust="spacing">13</text>
<text class="tl" x="131.53" y="387.77" text-anchor="middle" textLength="4.77" lengthAdjust="spacing">14</text>
<text class="tl" x="17" y="383.98" text-anchor="end" textLength="5.96" lengthAdjust="spacing">0.0</text>
<text class="tl" x="17" y="371.19" text-anchor="end" textLength="5.96" lengthAdjust="spacing">0.1</text>
<text class="tl" x="17" y="358.41" text-anchor="end" textLength="5.96" lengthAdjust="spacing">0.2</text>
<text class="tl" x="17" y="345.62" text-anchor="end" textLength="5.96" lengthAdjust="spacing">0.3</text>
<text class="tl" x="17" y="332.83" text-anchor="end" textLength="5.96" lengthAdjust="spacing">0.4</text>
<text class="tl" x="17" y="320.04" text-anchor="end" textLength="5.96" lengthAdjust="spacing">0.5</text>
<text class="tl" x="17" y="307.25" text-anchor="end" textLength="5.96" lengthAdjust="spacing">0.6</text>
<text class="tl" x="17" y="294.47" text-anchor="end" textLength="5.96" lengthAdjust="spacing">0.7</text>
<path d="M27.41 382v1.3M35.42 382v1.3M43.43 382v1.3M51.44 382v1.3M59.45 382v1.3M67.46 382v1.3M75.47 382v1.3M83.48 382v1.3M91.49 382v1.3M99.5 382v1.3M107.5 382v1.3M115.51 382v1.3M123.52 382v1.3M131.53 382v1.3M19.4 382h-1.3M19.4 375.61h-0.8M19.4 369.21h-1.3M19.4 362.82h-0.8M19.4 356.43h-1.3M19.4 350.03h-0.8M19.4 343.64h-1.3M19.4 337.24h-0.8M19.4 330.85h-1.3M19.4 324.46h-0.8M19.4 318.06h-1.3M19.4 311.67h-0.8M19.4 305.27h-1.3M19.4 298.88h-0.8M19.4 292.49h-1.3M19.4 286.09h-0.8" class="tick"/>
<rect x="19.4" y="279.7" width="168.2" height="102.3" class="frame"/>
<text class="al" x="103.5" y="393.02" text-anchor="middle" textLength="48.49" lengthAdjust="spacing">Number of dates selected</text>
<text class="al" transform="translate(8 331.65) rotate(-90)" text-anchor="middle" textLength="48.31" lengthAdjust="spacing">Average Overall Accuracy</text>
<rect x="156.4" y="356.8" width="29.4" height="23.6" class="leg"/>
<rect x="158.2" y="359.5" width="6.6" height="2.4" fill="#80c23a"/>
<text class="lt" x="168" y="362.15" textLength="12.26" lengthAdjust="spacing">Spring</text>
<rect x="158.2" y="364.95" width="6.6" height="2.4" fill="#f5d424"/>
<text class="lt" x="168" y="367.6" textLength="16.12" lengthAdjust="spacing">Summer</text>
<rect x="158.2" y="370.4" width="6.6" height="2.4" fill="#de6d1d"/>
<text class="lt" x="168" y="373.05" textLength="15.02" lengthAdjust="spacing">Autumn</text>
<rect x="158.2" y="375.85" width="6.6" height="2.4" fill="#5dc4cf"/>
<text class="lt" x="168" y="378.5" textLength="12.53" lengthAdjust="spacing">Winter</text>
<text class="cap" x="97.2" y="408.6" text-anchor="middle"><tspan font-weight="bold">(f)</tspan> 2010</text>
</g>
<g>
<path d="M209.5 375.7H378.6M209.5 369.3H378.6M209.5 362.9H378.6M209.5 356.5H378.6M209.5 350.1H378.6M209.5 343.7H378.6M209.5 337.3H378.6M209.5 330.9H378.6M209.5 324.5H378.6M209.5 318.1H378.6M209.5 311.7H378.6M209.5 305.3H378.6M209.5 298.9H378.6M209.5 292.5H378.6M209.5 286.1H378.6" class="grid"/>
<path d="M217.55 279.7V382.1M225.6 279.7V382.1M233.66 279.7V382.1M241.71 279.7V382.1M249.76 279.7V382.1M257.81 279.7V382.1M265.87 279.7V382.1M273.92 279.7V382.1M281.97 279.7V382.1M290.02 279.7V382.1M298.08 279.7V382.1M306.13 279.7V382.1" class="vgrid"/>
<rect x="214.33" y="318.74" width="6.44" height="63.36" fill="#80c23a"/>
<rect x="222.38" y="311.96" width="6.44" height="70.14" fill="#80c23a"/>
<rect x="230.44" y="307.86" width="6.44" height="74.24" fill="#5dc4cf"/>
<rect x="238.49" y="304.66" width="6.44" height="77.44" fill="#f5d424"/>
<rect x="246.54" y="303" width="6.44" height="79.1" fill="#de6d1d"/>
<rect x="254.59" y="304.28" width="6.44" height="77.82" fill="#f5d424"/>
<rect x="262.65" y="304.28" width="6.44" height="77.82" fill="#de6d1d"/>
<rect x="270.7" y="304.28" width="6.44" height="77.82" fill="#de6d1d"/>
<rect x="278.75" y="306.45" width="6.44" height="75.65" fill="#de6d1d"/>
<rect x="286.8" y="309.14" width="6.44" height="72.96" fill="#80c23a"/>
<rect x="294.86" y="309.78" width="6.44" height="72.32" fill="#f5d424"/>
<rect x="302.91" y="312.21" width="6.44" height="69.89" fill="#80c23a"/>
<text class="bt" transform="translate(219.05 319.24) rotate(-90)" text-anchor="end" textLength="12.39" lengthAdjust="spacingAndGlyphs">28/04</text>
<text class="bt vt" transform="translate(219.05 317.84) rotate(-90)" text-anchor="start" textLength="9.57" lengthAdjust="spacingAndGlyphs">0.49</text>
<text class="bt" transform="translate(227.1 312.46) rotate(-90)" text-anchor="end" textLength="12.39" lengthAdjust="spacingAndGlyphs">13/05</text>
<text class="bt" transform="translate(235.16 308.36) rotate(-90)" text-anchor="end" textLength="12.39" lengthAdjust="spacingAndGlyphs">28/02</text>
<text class="bt" transform="translate(243.21 305.16) rotate(-90)" text-anchor="end" textLength="12.39" lengthAdjust="spacingAndGlyphs">22/08</text>
<text class="bt" transform="translate(251.26 303.5) rotate(-90)" text-anchor="end" textLength="12.39" lengthAdjust="spacingAndGlyphs">04/11</text>
<text class="bt vt" transform="translate(251.26 302.1) rotate(-90)" text-anchor="start" textLength="9.57" lengthAdjust="spacingAndGlyphs">0.62</text>
<text class="bt" transform="translate(259.31 304.78) rotate(-90)" text-anchor="end" textLength="12.39" lengthAdjust="spacingAndGlyphs">26/08</text>
<text class="bt" transform="translate(267.37 304.78) rotate(-90)" text-anchor="end" textLength="12.39" lengthAdjust="spacingAndGlyphs">09/11</text>
<text class="bt" transform="translate(275.42 304.78) rotate(-90)" text-anchor="end" textLength="12.39" lengthAdjust="spacingAndGlyphs">21/10</text>
<text class="bt" transform="translate(283.47 306.95) rotate(-90)" text-anchor="end" textLength="12.39" lengthAdjust="spacingAndGlyphs">23/11</text>
<text class="bt" transform="translate(291.52 309.64) rotate(-90)" text-anchor="end" textLength="12.39" lengthAdjust="spacingAndGlyphs">10/03</text>
<text class="bt" transform="translate(299.58 310.28) rotate(-90)" text-anchor="end" textLength="12.39" lengthAdjust="spacingAndGlyphs">09/07</text>
<text class="bt" transform="translate(307.63 312.71) rotate(-90)" text-anchor="end" textLength="12.39" lengthAdjust="spacingAndGlyphs">10/05</text>
<text class="bt vt" transform="translate(307.63 311.31) rotate(-90)" text-anchor="start" textLength="9.57" lengthAdjust="spacingAndGlyphs">0.55</text>
<text class="tl" x="217.55" y="387.57" text-anchor="middle" textLength="2.39" lengthAdjust="spacing">1</text>
<text class="tl" x="225.6" y="387.57" text-anchor="middle" textLength="2.39" lengthAdjust="spacing">2</text>
<text class="tl" x="233.66" y="387.57" text-anchor="middle" textLength="2.39" lengthAdjust="spacing">3</text>
<text class="tl" x="241.71" y="387.57" text-anchor="middle" textLength="2.39" lengthAdjust="spacing">4</text>
<text class="tl" x="249.76" y="387.57" text-anchor="middle" textLength="2.39" lengthAdjust="spacing">5</text>
<text class="tl" x="257.81" y="387.57" text-anchor="middle" textLength="2.39" lengthAdjust="spacing">6</text>
<text class="tl" x="265.87" y="387.57" text-anchor="middle" textLength="2.39" lengthAdjust="spacing">7</text>
<text class="tl" x="273.92" y="387.57" text-anchor="middle" textLength="2.39" lengthAdjust="spacing">8</text>
<text class="tl" x="281.97" y="387.57" text-anchor="middle" textLength="2.39" lengthAdjust="spacing">9</text>
<text class="tl" x="290.02" y="387.57" text-anchor="middle" textLength="4.77" lengthAdjust="spacing">10</text>
<text class="tl" x="298.08" y="387.57" text-anchor="middle" textLength="4.77" lengthAdjust="spacing">11</text>
<text class="tl" x="306.13" y="387.57" text-anchor="middle" textLength="4.77" lengthAdjust="spacing">12</text>
<text class="tl" x="207.1" y="384.08" text-anchor="end" textLength="5.96" lengthAdjust="spacing">0.0</text>
<text class="tl" x="207.1" y="371.28" text-anchor="end" textLength="5.96" lengthAdjust="spacing">0.1</text>
<text class="tl" x="207.1" y="358.48" text-anchor="end" textLength="5.96" lengthAdjust="spacing">0.2</text>
<text class="tl" x="207.1" y="345.68" text-anchor="end" textLength="5.96" lengthAdjust="spacing">0.3</text>
<text class="tl" x="207.1" y="332.88" text-anchor="end" textLength="5.96" lengthAdjust="spacing">0.4</text>
<text class="tl" x="207.1" y="320.08" text-anchor="end" textLength="5.96" lengthAdjust="spacing">0.5</text>
<text class="tl" x="207.1" y="307.28" text-anchor="end" textLength="5.96" lengthAdjust="spacing">0.6</text>
<text class="tl" x="207.1" y="294.48" text-anchor="end" textLength="5.96" lengthAdjust="spacing">0.7</text>
<path d="M217.55 382.1v1.3M225.6 382.1v1.3M233.66 382.1v1.3M241.71 382.1v1.3M249.76 382.1v1.3M257.81 382.1v1.3M265.87 382.1v1.3M273.92 382.1v1.3M281.97 382.1v1.3M290.02 382.1v1.3M298.08 382.1v1.3M306.13 382.1v1.3M209.5 382.1h-1.3M209.5 375.7h-0.8M209.5 369.3h-1.3M209.5 362.9h-0.8M209.5 356.5h-1.3M209.5 350.1h-0.8M209.5 343.7h-1.3M209.5 337.3h-0.8M209.5 330.9h-1.3M209.5 324.5h-0.8M209.5 318.1h-1.3M209.5 311.7h-0.8M209.5 305.3h-1.3M209.5 298.9h-0.8M209.5 292.5h-1.3M209.5 286.1h-0.8" class="tick"/>
<rect x="209.5" y="279.7" width="169.1" height="102.4" class="frame"/>
<text class="al" x="294.05" y="393.02" text-anchor="middle" textLength="48.49" lengthAdjust="spacing">Number of dates selected</text>
<text class="al" transform="translate(198.1 331.7) rotate(-90)" text-anchor="middle" textLength="48.31" lengthAdjust="spacing">Average Overall Accuracy</text>
<rect x="347.4" y="356.9" width="29.4" height="23.6" class="leg"/>
<rect x="349.2" y="359.6" width="6.6" height="2.4" fill="#80c23a"/>
<text class="lt" x="359" y="362.25" textLength="12.26" lengthAdjust="spacing">Spring</text>
<rect x="349.2" y="365.05" width="6.6" height="2.4" fill="#f5d424"/>
<text class="lt" x="359" y="367.7" textLength="16.12" lengthAdjust="spacing">Summer</text>
<rect x="349.2" y="370.5" width="6.6" height="2.4" fill="#de6d1d"/>
<text class="lt" x="359" y="373.15" textLength="15.02" lengthAdjust="spacing">Autumn</text>
<rect x="349.2" y="375.95" width="6.6" height="2.4" fill="#5dc4cf"/>
<text class="lt" x="359" y="378.6" textLength="12.53" lengthAdjust="spacing">Winter</text>
<text class="cap" x="287.5" y="408.6" text-anchor="middle"><tspan font-weight="bold">(g)</tspan> 2011</text>
</g>
<g>
<path d="M19.4 512.89H187.6M19.4 506.49H187.6M19.4 500.08H187.6M19.4 493.67H187.6M19.4 487.27H187.6M19.4 480.86H187.6M19.4 474.46H187.6M19.4 468.05H187.6M19.4 461.64H187.6M19.4 455.24H187.6M19.4 448.83H187.6M19.4 442.43H187.6M19.4 436.02H187.6M19.4 429.61H187.6M19.4 423.21H187.6" class="grid"/>
<path d="M27.41 416.8V519.3M35.42 416.8V519.3M43.43 416.8V519.3M51.44 416.8V519.3M59.45 416.8V519.3M67.46 416.8V519.3M75.47 416.8V519.3M83.48 416.8V519.3M91.49 416.8V519.3M99.5 416.8V519.3M107.5 416.8V519.3M115.51 416.8V519.3M123.52 416.8V519.3" class="vgrid"/>
<rect x="24.21" y="456.01" width="6.41" height="63.29" fill="#f5d424"/>
<rect x="32.22" y="445.12" width="6.41" height="74.18" fill="#80c23a"/>
<rect x="40.22" y="439.48" width="6.41" height="79.82" fill="#f5d424"/>
<rect x="48.23" y="435.25" width="6.41" height="84.05" fill="#de6d1d"/>
<rect x="56.24" y="435.51" width="6.41" height="83.79" fill="#80c23a"/>
<rect x="64.25" y="436.15" width="6.41" height="83.15" fill="#5dc4cf"/>
<rect x="72.26" y="436.27" width="6.41" height="83.02" fill="#de6d1d"/>
<rect x="80.27" y="437.17" width="6.41" height="82.13" fill="#5dc4cf"/>
<rect x="88.28" y="438.32" width="6.41" height="80.97" fill="#5dc4cf"/>
<rect x="96.29" y="439.99" width="6.41" height="79.31" fill="#f5d424"/>
<rect x="104.3" y="442.55" width="6.41" height="76.75" fill="#80c23a"/>
<rect x="112.31" y="444.99" width="6.41" height="74.31" fill="#f5d424"/>
<rect x="120.32" y="447.04" width="6.41" height="72.26" fill="#5dc4cf"/>
<text class="bt" transform="translate(28.91 456.51) rotate(-90)" text-anchor="end" textLength="12.39" lengthAdjust="spacingAndGlyphs">11/08</text>
<text class="bt vt" transform="translate(28.91 455.11) rotate(-90)" text-anchor="start" textLength="9.57" lengthAdjust="spacingAndGlyphs">0.49</text>
<text class="bt" transform="translate(36.92 445.62) rotate(-90)" text-anchor="end" textLength="12.39" lengthAdjust="spacingAndGlyphs">26/03</text>
<text class="bt" transform="translate(44.93 439.98) rotate(-90)" text-anchor="end" textLength="12.39" lengthAdjust="spacingAndGlyphs">19/07</text>
<text class="bt" transform="translate(52.94 435.75) rotate(-90)" text-anchor="end" textLength="12.39" lengthAdjust="spacingAndGlyphs">01/10</text>
<text class="bt vt" transform="translate(52.94 434.35) rotate(-90)" text-anchor="start" textLength="9.57" lengthAdjust="spacingAndGlyphs">0.66</text>
<text class="bt" transform="translate(60.95 436.01) rotate(-90)" text-anchor="end" textLength="12.39" lengthAdjust="spacingAndGlyphs">20/04</text>
<text class="bt" transform="translate(68.96 436.65) rotate(-90)" text-anchor="end" textLength="12.39" lengthAdjust="spacingAndGlyphs">21/02</text>
<text class="bt" transform="translate(76.97 436.77) rotate(-90)" text-anchor="end" textLength="12.39" lengthAdjust="spacingAndGlyphs">02/09</text>
<text class="bt" transform="translate(84.98 437.67) rotate(-90)" text-anchor="end" textLength="12.39" lengthAdjust="spacingAndGlyphs">21/02</text>
<text class="bt" transform="translate(92.99 438.82) rotate(-90)" text-anchor="end" textLength="12.39" lengthAdjust="spacingAndGlyphs">15/01</text>
<text class="bt" transform="translate(101 440.49) rotate(-90)" text-anchor="end" textLength="12.39" lengthAdjust="spacingAndGlyphs">22/07</text>
<text class="bt" transform="translate(109 443.05) rotate(-90)" text-anchor="end" textLength="12.39" lengthAdjust="spacingAndGlyphs">20/04</text>
<text class="bt" transform="translate(117.01 445.49) rotate(-90)" text-anchor="end" textLength="12.39" lengthAdjust="spacingAndGlyphs">09/08</text>
<text class="bt" transform="translate(125.02 447.54) rotate(-90)" text-anchor="end" textLength="12.39" lengthAdjust="spacingAndGlyphs">16/02</text>
<text class="bt vt" transform="translate(125.02 446.14) rotate(-90)" text-anchor="start" textLength="9.57" lengthAdjust="spacingAndGlyphs">0.58</text>
<text class="tl" x="27.41" y="524.72" text-anchor="middle" textLength="2.39" lengthAdjust="spacing">1</text>
<text class="tl" x="35.42" y="524.72" text-anchor="middle" textLength="2.39" lengthAdjust="spacing">2</text>
<text class="tl" x="43.43" y="524.72" text-anchor="middle" textLength="2.39" lengthAdjust="spacing">3</text>
<text class="tl" x="51.44" y="524.72" text-anchor="middle" textLength="2.39" lengthAdjust="spacing">4</text>
<text class="tl" x="59.45" y="524.72" text-anchor="middle" textLength="2.39" lengthAdjust="spacing">5</text>
<text class="tl" x="67.46" y="524.72" text-anchor="middle" textLength="2.39" lengthAdjust="spacing">6</text>
<text class="tl" x="75.47" y="524.72" text-anchor="middle" textLength="2.39" lengthAdjust="spacing">7</text>
<text class="tl" x="83.48" y="524.72" text-anchor="middle" textLength="2.39" lengthAdjust="spacing">8</text>
<text class="tl" x="91.49" y="524.72" text-anchor="middle" textLength="2.39" lengthAdjust="spacing">9</text>
<text class="tl" x="99.5" y="524.72" text-anchor="middle" textLength="4.77" lengthAdjust="spacing">10</text>
<text class="tl" x="107.5" y="524.72" text-anchor="middle" textLength="4.77" lengthAdjust="spacing">11</text>
<text class="tl" x="115.51" y="524.72" text-anchor="middle" textLength="4.77" lengthAdjust="spacing">12</text>
<text class="tl" x="123.52" y="524.72" text-anchor="middle" textLength="4.77" lengthAdjust="spacing">13</text>
<text class="tl" x="17" y="521.28" text-anchor="end" textLength="5.96" lengthAdjust="spacing">0.0</text>
<text class="tl" x="17" y="508.47" text-anchor="end" textLength="5.96" lengthAdjust="spacing">0.1</text>
<text class="tl" x="17" y="495.65" text-anchor="end" textLength="5.96" lengthAdjust="spacing">0.2</text>
<text class="tl" x="17" y="482.84" text-anchor="end" textLength="5.96" lengthAdjust="spacing">0.3</text>
<text class="tl" x="17" y="470.03" text-anchor="end" textLength="5.96" lengthAdjust="spacing">0.4</text>
<text class="tl" x="17" y="457.22" text-anchor="end" textLength="5.96" lengthAdjust="spacing">0.5</text>
<text class="tl" x="17" y="444.41" text-anchor="end" textLength="5.96" lengthAdjust="spacing">0.6</text>
<text class="tl" x="17" y="431.59" text-anchor="end" textLength="5.96" lengthAdjust="spacing">0.7</text>
<path d="M27.41 519.3v1.3M35.42 519.3v1.3M43.43 519.3v1.3M51.44 519.3v1.3M59.45 519.3v1.3M67.46 519.3v1.3M75.47 519.3v1.3M83.48 519.3v1.3M91.49 519.3v1.3M99.5 519.3v1.3M107.5 519.3v1.3M115.51 519.3v1.3M123.52 519.3v1.3M19.4 519.3h-1.3M19.4 512.89h-0.8M19.4 506.49h-1.3M19.4 500.08h-0.8M19.4 493.67h-1.3M19.4 487.27h-0.8M19.4 480.86h-1.3M19.4 474.46h-0.8M19.4 468.05h-1.3M19.4 461.64h-0.8M19.4 455.24h-1.3M19.4 448.83h-0.8M19.4 442.43h-1.3M19.4 436.02h-0.8M19.4 429.61h-1.3M19.4 423.21h-0.8" class="tick"/>
<rect x="19.4" y="416.8" width="168.2" height="102.5" class="frame"/>
<text class="al" x="103.5" y="530.02" text-anchor="middle" textLength="48.49" lengthAdjust="spacing">Number of dates selected</text>
<text class="al" transform="translate(8 468.85) rotate(-90)" text-anchor="middle" textLength="48.31" lengthAdjust="spacing">Average Overall Accuracy</text>
<rect x="156.4" y="494.1" width="29.4" height="23.6" class="leg"/>
<rect x="158.2" y="496.8" width="6.6" height="2.4" fill="#80c23a"/>
<text class="lt" x="168" y="499.45" textLength="12.26" lengthAdjust="spacing">Spring</text>
<rect x="158.2" y="502.25" width="6.6" height="2.4" fill="#f5d424"/>
<text class="lt" x="168" y="504.9" textLength="16.12" lengthAdjust="spacing">Summer</text>
<rect x="158.2" y="507.7" width="6.6" height="2.4" fill="#de6d1d"/>
<text class="lt" x="168" y="510.35" textLength="15.02" lengthAdjust="spacing">Autumn</text>
<rect x="158.2" y="513.15" width="6.6" height="2.4" fill="#5dc4cf"/>
<text class="lt" x="168" y="515.8" textLength="12.53" lengthAdjust="spacing">Winter</text>
<text class="cap" x="97.1" y="546.8" text-anchor="middle"><tspan font-weight="bold">(h)</tspan> 2012</text>
</g>
<g>
<path d="M209.5 512.83H378.4M209.5 506.45H378.4M209.5 500.08H378.4M209.5 493.7H378.4M209.5 487.33H378.4M209.5 480.95H378.4M209.5 474.58H378.4M209.5 468.2H378.4M209.5 461.82H378.4M209.5 455.45H378.4M209.5 449.07H378.4M209.5 442.7H378.4M209.5 436.32H378.4M209.5 429.95H378.4M209.5 423.57H378.4" class="grid"/>
<path d="M217.54 417.2V519.2M225.59 417.2V519.2M233.63 417.2V519.2M241.67 417.2V519.2M249.71 417.2V519.2M257.76 417.2V519.2M265.8 417.2V519.2M273.84 417.2V519.2M281.89 417.2V519.2M289.93 417.2V519.2M297.97 417.2V519.2M306.01 417.2V519.2M314.06 417.2V519.2M322.1 417.2V519.2M330.14 417.2V519.2M338.19 417.2V519.2M346.23 417.2V519.2" class="vgrid"/>
<rect x="214.33" y="458.13" width="6.43" height="61.07" fill="#5dc4cf"/>
<rect x="222.37" y="438.75" width="6.43" height="80.45" fill="#f5d424"/>
<rect x="230.41" y="436.07" width="6.43" height="83.13" fill="#80c23a"/>
<rect x="238.45" y="432.37" width="6.43" height="86.83" fill="#de6d1d"/>
<rect x="246.5" y="431.1" width="6.43" height="88.1" fill="#de6d1d"/>
<rect x="254.54" y="432.37" width="6.43" height="86.83" fill="#f5d424"/>
<rect x="262.58" y="433.01" width="6.43" height="86.19" fill="#de6d1d"/>
<rect x="270.63" y="432.75" width="6.43" height="86.45" fill="#5dc4cf"/>
<rect x="278.67" y="431.74" width="6.43" height="87.47" fill="#f5d424"/>
<rect x="286.71" y="432.12" width="6.43" height="87.08" fill="#f5d424"/>
<rect x="294.75" y="432.12" width="6.43" height="87.08" fill="#f5d424"/>
<rect x="302.8" y="433.39" width="6.43" height="85.81" fill="#f5d424"/>
<rect x="310.84" y="433.39" width="6.43" height="85.81" fill="#80c23a"/>
<rect x="318.88" y="435.31" width="6.43" height="83.9" fill="#f5d424"/>
<rect x="326.93" y="435.94" width="6.43" height="83.26" fill="#80c23a"/>
<rect x="334.97" y="437.98" width="6.43" height="81.22" fill="#de6d1d"/>
<rect x="343.01" y="441.17" width="6.43" height="78.03" fill="#f5d424"/>
<text class="bt" transform="translate(219.04 458.63) rotate(-90)" text-anchor="end" textLength="12.39" lengthAdjust="spacingAndGlyphs">19/12</text>
<text class="bt vt" transform="translate(219.04 457.23) rotate(-90)" text-anchor="start" textLength="9.57" lengthAdjust="spacingAndGlyphs">0.48</text>
<text class="bt" transform="translate(227.09 439.25) rotate(-90)" text-anchor="end" textLength="12.39" lengthAdjust="spacingAndGlyphs">22/06</text>
<text class="bt" transform="translate(235.13 436.57) rotate(-90)" text-anchor="end" textLength="12.39" lengthAdjust="spacingAndGlyphs">12/03</text>
<text class="bt" transform="translate(243.17 432.87) rotate(-90)" text-anchor="end" textLength="12.39" lengthAdjust="spacingAndGlyphs">21/10</text>
<text class="bt" transform="translate(251.21 431.6) rotate(-90)" text-anchor="end" textLength="12.39" lengthAdjust="spacingAndGlyphs">10/10</text>
<text class="bt vt" transform="translate(251.21 430.2) rotate(-90)" text-anchor="start" textLength="9.57" lengthAdjust="spacingAndGlyphs">0.69</text>
<text class="bt" transform="translate(259.26 432.87) rotate(-90)" text-anchor="end" textLength="12.39" lengthAdjust="spacingAndGlyphs">20/08</text>
<text class="bt" transform="translate(267.3 433.51) rotate(-90)" text-anchor="end" textLength="12.39" lengthAdjust="spacingAndGlyphs">06/10</text>
<text class="bt" transform="translate(275.34 433.25) rotate(-90)" text-anchor="end" textLength="12.39" lengthAdjust="spacingAndGlyphs">06/01</text>
<text class="bt" transform="translate(283.39 432.24) rotate(-90)" text-anchor="end" textLength="12.39" lengthAdjust="spacingAndGlyphs">25/07</text>
<text class="bt" transform="translate(291.43 432.62) rotate(-90)" text-anchor="end" textLength="12.39" lengthAdjust="spacingAndGlyphs">28/07</text>
<text class="bt" transform="translate(299.47 432.62) rotate(-90)" text-anchor="end" textLength="12.39" lengthAdjust="spacingAndGlyphs">09/08</text>
<text class="bt" transform="translate(307.51 433.89) rotate(-90)" text-anchor="end" textLength="12.39" lengthAdjust="spacingAndGlyphs">26/07</text>
<text class="bt" transform="translate(315.56 433.89) rotate(-90)" text-anchor="end" textLength="12.39" lengthAdjust="spacingAndGlyphs">04/04</text>
<text class="bt" transform="translate(323.6 435.81) rotate(-90)" text-anchor="end" textLength="12.39" lengthAdjust="spacingAndGlyphs">19/06</text>
<text class="bt" transform="translate(331.64 436.44) rotate(-90)" text-anchor="end" textLength="12.39" lengthAdjust="spacingAndGlyphs">24/05</text>
<text class="bt" transform="translate(339.69 438.48) rotate(-90)" text-anchor="end" textLength="12.39" lengthAdjust="spacingAndGlyphs">10/09</text>
<text class="bt" transform="translate(347.73 441.67) rotate(-90)" text-anchor="end" textLength="12.39" lengthAdjust="spacingAndGlyphs">08/08</text>
<text class="bt vt" transform="translate(347.73 440.27) rotate(-90)" text-anchor="start" textLength="6.84" lengthAdjust="spacingAndGlyphs">0.6</text>
<text class="tl" x="217.54" y="524.57" text-anchor="middle" textLength="2.39" lengthAdjust="spacing">1</text>
<text class="tl" x="225.59" y="524.57" text-anchor="middle" textLength="2.39" lengthAdjust="spacing">2</text>
<text class="tl" x="233.63" y="524.57" text-anchor="middle" textLength="2.39" lengthAdjust="spacing">3</text>
<text class="tl" x="241.67" y="524.57" text-anchor="middle" textLength="2.39" lengthAdjust="spacing">4</text>
<text class="tl" x="249.71" y="524.57" text-anchor="middle" textLength="2.39" lengthAdjust="spacing">5</text>
<text class="tl" x="257.76" y="524.57" text-anchor="middle" textLength="2.39" lengthAdjust="spacing">6</text>
<text class="tl" x="265.8" y="524.57" text-anchor="middle" textLength="2.39" lengthAdjust="spacing">7</text>
<text class="tl" x="273.84" y="524.57" text-anchor="middle" textLength="2.39" lengthAdjust="spacing">8</text>
<text class="tl" x="281.89" y="524.57" text-anchor="middle" textLength="2.39" lengthAdjust="spacing">9</text>
<text class="tl" x="289.93" y="524.57" text-anchor="middle" textLength="4.77" lengthAdjust="spacing">10</text>
<text class="tl" x="297.97" y="524.57" text-anchor="middle" textLength="4.77" lengthAdjust="spacing">11</text>
<text class="tl" x="306.01" y="524.57" text-anchor="middle" textLength="4.77" lengthAdjust="spacing">12</text>
<text class="tl" x="314.06" y="524.57" text-anchor="middle" textLength="4.77" lengthAdjust="spacing">13</text>
<text class="tl" x="322.1" y="524.57" text-anchor="middle" textLength="4.77" lengthAdjust="spacing">14</text>
<text class="tl" x="330.14" y="524.57" text-anchor="middle" textLength="4.77" lengthAdjust="spacing">15</text>
<text class="tl" x="338.19" y="524.57" text-anchor="middle" textLength="4.77" lengthAdjust="spacing">16</text>
<text class="tl" x="346.23" y="524.57" text-anchor="middle" textLength="4.77" lengthAdjust="spacing">17</text>
<text class="tl" x="207.1" y="521.18" text-anchor="end" textLength="5.96" lengthAdjust="spacing">0.0</text>
<text class="tl" x="207.1" y="508.43" text-anchor="end" textLength="5.96" lengthAdjust="spacing">0.1</text>
<text class="tl" x="207.1" y="495.68" text-anchor="end" textLength="5.96" lengthAdjust="spacing">0.2</text>
<text class="tl" x="207.1" y="482.93" text-anchor="end" textLength="5.96" lengthAdjust="spacing">0.3</text>
<text class="tl" x="207.1" y="470.18" text-anchor="end" textLength="5.96" lengthAdjust="spacing">0.4</text>
<text class="tl" x="207.1" y="457.43" text-anchor="end" textLength="5.96" lengthAdjust="spacing">0.5</text>
<text class="tl" x="207.1" y="444.68" text-anchor="end" textLength="5.96" lengthAdjust="spacing">0.6</text>
<text class="tl" x="207.1" y="431.93" text-anchor="end" textLength="5.96" lengthAdjust="spacing">0.7</text>
<path d="M217.54 519.2v1.3M225.59 519.2v1.3M233.63 519.2v1.3M241.67 519.2v1.3M249.71 519.2v1.3M257.76 519.2v1.3M265.8 519.2v1.3M273.84 519.2v1.3M281.89 519.2v1.3M289.93 519.2v1.3M297.97 519.2v1.3M306.01 519.2v1.3M314.06 519.2v1.3M322.1 519.2v1.3M330.14 519.2v1.3M338.19 519.2v1.3M346.23 519.2v1.3M209.5 519.2h-1.3M209.5 512.83h-0.8M209.5 506.45h-1.3M209.5 500.08h-0.8M209.5 493.7h-1.3M209.5 487.33h-0.8M209.5 480.95h-1.3M209.5 474.58h-0.8M209.5 468.2h-1.3M209.5 461.82h-0.8M209.5 455.45h-1.3M209.5 449.07h-0.8M209.5 442.7h-1.3M209.5 436.32h-0.8M209.5 429.95h-1.3M209.5 423.57h-0.8" class="tick"/>
<rect x="209.5" y="417.2" width="168.9" height="102" class="frame"/>
<text class="al" x="293.95" y="530.12" text-anchor="middle" textLength="48.49" lengthAdjust="spacing">Number of dates selected</text>
<text class="al" transform="translate(198.1 469) rotate(-90)" text-anchor="middle" textLength="48.31" lengthAdjust="spacing">Average Overall Accuracy</text>
<rect x="347.2" y="494" width="29.4" height="23.6" class="leg"/>
<rect x="349" y="496.7" width="6.6" height="2.4" fill="#80c23a"/>
<text class="lt" x="358.8" y="499.35" textLength="12.26" lengthAdjust="spacing">Spring</text>
<rect x="349" y="502.15" width="6.6" height="2.4" fill="#f5d424"/>
<text class="lt" x="358.8" y="504.8" textLength="16.12" lengthAdjust="spacing">Summer</text>
<rect x="349" y="507.6" width="6.6" height="2.4" fill="#de6d1d"/>
<text class="lt" x="358.8" y="510.25" textLength="15.02" lengthAdjust="spacing">Autumn</text>
<rect x="349" y="513.05" width="6.6" height="2.4" fill="#5dc4cf"/>
<text class="lt" x="358.8" y="515.7" textLength="12.53" lengthAdjust="spacing">Winter</text>
<text class="cap" x="287.5" y="546.8" text-anchor="middle"><tspan font-weight="bold">(i)</tspan> 2013</text>
</g>
</svg></body></html>
